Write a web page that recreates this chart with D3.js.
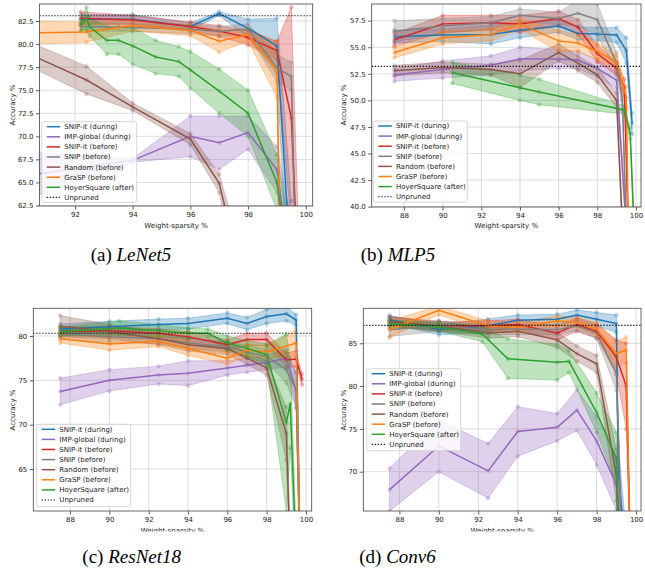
<!DOCTYPE html>
<html>
<head>
<meta charset="utf-8">
<script src="https://cdnjs.cloudflare.com/ajax/libs/d3/7.8.5/d3.min.js"></script>
<style>
  body { margin: 0; background: #fff; }
  text { font-family: "DejaVu Sans", sans-serif; }
</style>
</head>
<body>
<div id="chart"></div>
<script>
var seriesNames = ["SNIP-it (during)", "IMP-global (during)", "SNIP-it (before)", "SNIP (before)",
    "Random (before)", "GraSP (before)", "HoyerSquare (after)"];
var captions = [["(a) ", "LeNet5"], ["(b) ", "MLP5"], ["(c) ", "ResNet18"], ["(d) ", "Conv6"]];
var unprunedAcc = [83.07, 53.2, 80.3, 87.1];

// tick labels
var lenetYTicks = [62.5, 65, 67.5, 70, 72.5, 75, 77.5, 80, 82.5];
var mlpYTicks = [40, 42.5, 45, 47.5, 50, 52.5, 55, 57.5];
var resnetYTicks = [65, 70, 75, 80];
var conv6YTicks = [70, 75, 80, 85];
var lenetXTicks = [92, 94, 96, 98, 100];
var wideXTicks = [88, 90, 92, 94, 96, 98, 100];

// LeNet5: sparsity, mean accuracy, spread (per series, legend order)
var lenetX = [
    [92.2, 94, 96, 97, 98, 99, 99.5],
    [89.3, 94, 96, 97, 98, 99, 99.5],
    [92.2, 94, 96, 97, 98, 99, 99.5, 99.8],
    [92.2, 94, 96, 97, 98, 99, 99.5, 99.7],
    [90, 92.4, 94, 96, 97, 98],
    [90, 92.4, 94, 96, 97, 98, 99, 99.15],
    [92.2, 92.4, 92.5, 93.1, 93.5, 94, 94.8, 95.6, 96, 97, 98, 99, 99.5]
];
var lenetMean = [
    [82.7, 82.7, 81.9, 83.3, 81.7, 79.8, 55],
    [65.3, 67.4, 70.0, 69.3, 70.4, 66.4, 55],
    [82.8, 82.6, 81.9, 81.4, 80.7, 79.3, 72, 50],
    [81.9, 81.8, 81.6, 81.4, 81.6, 77.4, 76.5, 50],
    [79.5, 76.1, 73.2, 69.7, 64.9, 52],
    [81.2, 81.3, 82.0, 81.5, 80.3, 81.0, 77.2, 50],
    [82.1, 82.8, 81.9, 80.4, 80.4, 79.8, 78.6, 78.1, 77.2, 74.9, 72.5, 65.0, 55]
];
var lenetSpread = [
    [0.5, 0.5, 0.4, 0.2, 1.0, 3.0, 8],
    [3.2, 0.2, 2.2, 2.9, 1.8, 2.5, 6],
    [0.7, 0.5, 0.5, 0.6, 0.8, 1.0, 12, 5],
    [0.5, 0.4, 0.5, 0.5, 0.6, 1.5, 1.5, 5],
    [1.3, 1.5, 0.4, 0.6, 1.0, 3],
    [1.3, 1.1, 0.6, 0.6, 1.2, 0.7, 3, 5],
    [0.6, 1.2, 1.0, 1.5, 1.5, 2.0, 1.8, 1.6, 2.0, 2.4, 2.5, 3, 4]
];

// MLP5
var mlpX = [
    [87.5, 90, 92.5, 94, 96, 97, 98, 99, 99.5, 99.8],
    [87.5, 90, 92.5, 94, 96, 97, 98, 99, 99.5],
    [87.5, 90, 92.5, 94, 96, 97, 98, 99, 99.4, 99.6],
    [87.5, 90, 92.5, 94, 96, 97, 98, 99, 99.3, 99.5],
    [87.5, 90, 92.5, 94, 96, 97, 98, 99, 99.3],
    [87.5, 90, 92.5, 94, 96, 97, 98, 99, 99.5, 99.6],
    [90.5, 94, 95, 99.4, 99.7, 99.9]
];
var mlpMean = [
    [56.0, 56.15, 56.2, 56.6, 57.0, 56.3, 56.25, 56.15, 54.7, 47.8],
    [52.4, 52.9, 53.3, 53.9, 53.9, 53.8, 53.0, 51.9, 38],
    [55.7, 57.2, 57.3, 57.2, 57.7, 56.9, 54.4, 53.0, 51.2, 38],
    [56.5, 57.0, 57.3, 58.0, 57.7, 58.2, 57.6, 53.5, 50.0, 38],
    [52.8, 53.1, 52.9, 52.5, 54.5, 53.5, 52.4, 50.0, 38],
    [54.5, 55.9, 56.2, 57.2, 55.6, 55.4, 54.6, 53.6, 50.3, 38],
    [52.6, 51.2, 50.8, 49.1, 46.9, 38]
];
var mlpSpread = [
    [0.6, 0.6, 0.9, 0.7, 0.6, 0.6, 0.6, 0.7, 1.2, 1.0],
    [0.6, 0.8, 0.9, 1.1, 0.9, 0.8, 0.8, 0.8, 1],
    [0.6, 0.8, 0.7, 0.8, 0.7, 0.7, 0.8, 0.6, 0.8, 1],
    [1.0, 0.7, 0.6, 0.6, 0.6, 1.2, 1.5, 1.0, 1.0, 1],
    [0.5, 0.5, 0.5, 1.3, 0.8, 0.7, 0.7, 0.7, 1],
    [0.5, 0.6, 0.6, 0.5, 1.0, 0.8, 0.8, 0.6, 1.0, 1],
    [1.0, 1.2, 1.2, 0.4, 0.5, 1]
];

// ResNet18
var resnetX = [
    [87.5, 90, 92.5, 94, 96, 97, 98, 99, 99.5, 99.7],
    [87.5, 90, 92.5, 94, 96, 97, 98, 99, 99.5, 99.7],
    [87.5, 90, 92.5, 94, 96, 97, 98, 99, 99.5, 99.8],
    [87.5, 90, 92.5, 94, 96, 97, 98, 99, 99.5, 99.7],
    [87.5, 90, 92.5, 94, 96, 97, 98, 99, 99.2],
    [87.5, 90, 92.5, 94, 96, 97, 98, 99.5, 99.7],
    [87.5, 90.5, 92.5, 94, 95, 96, 97, 98, 99, 99.2, 99.5]
];
var resnetMean = [
    [80.75, 81.05, 81.3, 81.4, 82.0, 81.4, 82.2, 82.5, 81.8, 55],
    [73.75, 75.0, 75.6, 75.8, 76.4, 76.7, 77.0, 77.5, 73.9, 55],
    [80.5, 80.6, 80.3, 79.9, 79.0, 79.6, 79.6, 77.3, 77.4, 75.1],
    [80.2, 79.9, 79.7, 79.2, 78.8, 78.2, 77.7, 76.2, 73.9, 55],
    [81.1, 80.5, 79.7, 79.0, 78.6, 77.5, 76.4, 69.0, 55],
    [79.7, 79.1, 79.4, 78.6, 77.5, 78.4, 78.2, 79.2, 55],
    [80.5, 80.9, 80.6, 80.3, 80.3, 79.2, 78.6, 77.9, 70.2, 72.4, 55]
];
var resnetSpread = [
    [0.6, 0.6, 0.6, 0.6, 0.6, 0.7, 0.8, 0.8, 0.6, 3],
    [1.5, 1.2, 1.0, 1.4, 0.8, 0.8, 0.8, 1.0, 2, 3],
    [0.5, 0.5, 0.5, 0.6, 0.6, 0.7, 0.7, 0.8, 0.9, 0.6],
    [0.6, 0.6, 0.6, 0.6, 0.6, 0.7, 0.8, 1.5, 2, 3],
    [1.2, 0.8, 0.7, 0.7, 0.7, 0.7, 0.8, 3, 3],
    [0.5, 0.7, 0.6, 0.8, 0.7, 0.7, 0.7, 1.5, 3],
    [0.5, 0.8, 0.7, 0.6, 0.5, 0.8, 0.9, 1.2, 10, 5, 3]
];

// Conv6
var conv6X = [
    [87.5, 90, 92.5, 94, 96, 97, 98, 99, 99.1, 99.5],
    [87.5, 90, 92.5, 94, 96, 97, 98, 99, 99.3],
    [87.5, 90, 92.5, 94, 96, 97, 98, 99, 99.5, 99.7],
    [87.5, 90, 92.5, 94, 96, 97, 98, 99, 99.3],
    [87.5, 90, 92.5, 94, 96, 97, 98, 99, 99.2],
    [87.5, 90, 92.5, 94, 96, 97, 98, 99, 99.5, 99.7],
    [87.5, 90, 92.2, 93.5, 96, 96.6, 98, 99, 99.1]
];
var conv6Mean = [
    [87.75, 86.6, 87.05, 87.7, 87.8, 88.3, 87.8, 87.3, 70, 60],
    [67.9, 73.0, 70.1, 74.7, 75.2, 77.2, 73.6, 68.5, 60],
    [87.55, 87.0, 87.05, 87.2, 86.2, 87.2, 86.4, 83.4, 80, 62],
    [86.6, 87.0, 86.6, 86.65, 86.6, 87.05, 86.2, 81.5, 60],
    [87.55, 87.0, 86.2, 86.4, 85.4, 83.8, 82.6, 69.6, 60],
    [86.65, 88.85, 87.05, 86.9, 87.6, 87.45, 86.65, 83.8, 84.2, 60],
    [87.35, 86.9, 86.1, 83.2, 82.8, 82.9, 76.9, 71.6, 60]
];
var conv6Spread = [
    [0.5, 0.6, 0.8, 0.6, 0.6, 0.6, 0.8, 1.0, 3, 3],
    [2.5, 3, 3.2, 2.9, 1.6, 2.4, 2.8, 3, 3],
    [0.6, 0.5, 0.6, 0.6, 0.8, 0.8, 0.8, 2.0, 5, 2],
    [0.8, 0.6, 0.6, 0.6, 0.6, 0.6, 0.6, 2, 3],
    [0.5, 0.6, 0.6, 0.6, 0.9, 0.9, 1.0, 3, 3],
    [1.0, 0.5, 0.6, 0.6, 0.6, 0.6, 0.8, 1.5, 1.5, 3],
    [0.4, 0.5, 0.9, 2.3, 2.1, 1.3, 2.3, 3, 3]
];

var colors = ["#1f77b4", "#9467bd", "#d62728", "#7f7f7f", "#8c564b", "#ff7f0e", "#2ca02c"];

// panel layout (pixels) and axis extents
var panels = [
    { x: lenetX, m: lenetMean, s: lenetSpread, yt: lenetYTicks, xt: lenetXTicks, fmt: ".1f",
      l: 39.5, r: 312.7, t: 4, b: 206, xd: [90.77, 100.24], yd: [62.45, 84.34],
      leg: [41.7, 121.7, 95, 80.6], yl: [13, 105], xl: 228, cap: [131, 261] },
    { x: mlpX, m: mlpMean, s: mlpSpread, yt: mlpYTicks, xt: wideXTicks, fmt: ".1f",
      l: 371.7, r: 641, t: 4, b: 207, xd: [86.33, 100.26], yd: [39.97, 59.07],
      leg: [373.3, 121, 94, 81], yl: [343.5, 105], xl: 228, cap: [398, 261] },
    { x: resnetX, m: resnetMean, s: resnetSpread, yt: resnetYTicks, xt: wideXTicks, fmt: "d",
      l: 33.3, r: 311.7, t: 308.3, b: 511, xd: [86.13, 100.29], yd: [60.27, 83.12],
      leg: [36.7, 424.3, 94, 82.4], yl: [13, 410], xl: 533, cap: [131.7, 563] },
    { x: conv6X, m: conv6Mean, s: conv6Spread, yt: conv6YTicks, xt: wideXTicks, fmt: "d",
      l: 363.3, r: 641, t: 308.3, b: 511, xd: [86.17, 100.25], yd: [65.41, 89.09],
      leg: [366.7, 368.7, 94, 82], yl: [343.5, 410], xl: 533, cap: [397.5, 563] }
];

var svg = d3.select("#chart").append("svg")
    .attr("width", 645)
    .attr("height", 582);

panels.forEach(function (p, pi) {
    var xScale = d3.scaleLinear().domain(p.xd).range([p.l, p.r]);
    var yScale = d3.scaleLinear().domain(p.yd).range([p.b, p.t]);

    svg.append("clipPath").attr("id", "clip" + pi)
        .append("rect")
        .attr("x", p.l).attr("y", p.t)
        .attr("width", p.r - p.l).attr("height", p.b - p.t);

    // grid
    var grid = svg.append("g");
    p.xt.forEach(function (v) {
        grid.append("line")
            .attr("x1", xScale(v)).attr("x2", xScale(v))
            .attr("y1", p.t).attr("y2", p.b)
            .attr("stroke", "#dcdcdc").attr("stroke-width", 1);
    });
    p.yt.forEach(function (v) {
        grid.append("line")
            .attr("x1", p.l).attr("x2", p.r)
            .attr("y1", yScale(v)).attr("y2", yScale(v))
            .attr("stroke", "#dcdcdc").attr("stroke-width", 1);
    });

    var plot = svg.append("g").attr("clip-path", "url(#clip" + pi + ")");

    var area = d3.area()
        .x(function (d) { return xScale(d[0]); })
        .y0(function (d) { return yScale(d[1] - d[2]); })
        .y1(function (d) { return yScale(d[1] + d[2]); });
    var line = d3.line()
        .x(function (d) { return xScale(d[0]); })
        .y(function (d) { return yScale(d[1]); });

    // bands and seed points first, lines on top
    p.x.forEach(function (xs, si) {
        var rows = xs.map(function (v, i) { return [v, p.m[si][i], p.s[si][i]]; });
        plot.append("path").datum(rows)
            .attr("d", area)
            .attr("fill", colors[si]).attr("fill-opacity", 0.3)
            .attr("stroke", colors[si]).attr("stroke-opacity", 0.5).attr("stroke-width", 0.6);
        var pts = [];
        rows.forEach(function (r) {
            pts.push([r[0], r[1] - r[2]], [r[0], r[1]], [r[0], r[1] + r[2]]);
        });
        plot.append("g").selectAll("circle")
            .data(pts)
            .enter()
            .append("circle")
            .attr("cx", function (d) { return xScale(d[0]); })
            .attr("cy", function (d) { return yScale(d[1]); })
            .attr("r", 2.2)
            .attr("fill", colors[si]).attr("fill-opacity", 0.3);
    });
    p.x.forEach(function (xs, si) {
        var rows = xs.map(function (v, i) { return [v, p.m[si][i]]; });
        plot.append("path").datum(rows)
            .attr("d", line)
            .attr("fill", "none")
            .attr("stroke", colors[si]).attr("stroke-width", 1.5);
    });

    // unpruned reference
    plot.append("line")
        .attr("x1", p.l).attr("x2", p.r)
        .attr("y1", yScale(unprunedAcc[pi])).attr("y2", yScale(unprunedAcc[pi]))
        .attr("stroke", "#000").attr("stroke-width", 1.1)
        .attr("stroke-dasharray", "1.2,1.8");

    // axes
    var bottomAxis = d3.axisBottom(xScale).tickValues(p.xt).tickFormat(d3.format("d"))
        .tickSize(3.5).tickPadding(2.5);
    var leftAxis = d3.axisLeft(yScale).tickValues(p.yt).tickFormat(d3.format(p.fmt))
        .tickSize(3.5).tickPadding(2.5);
    var gx = svg.append("g").attr("transform", "translate(0," + p.b + ")").call(bottomAxis);
    var gy = svg.append("g").attr("transform", "translate(" + p.l + ",0)").call(leftAxis);
    [gx, gy].forEach(function (g) {
        g.select(".domain").remove();
        g.selectAll("line").attr("stroke", "#333").attr("stroke-width", 0.8);
        g.selectAll("text").attr("fill", "#222").style("font-size", "7px")
            .style("font-family", "'DejaVu Sans', sans-serif");
    });

    svg.append("rect")
        .attr("x", p.l).attr("y", p.t)
        .attr("width", p.r - p.l).attr("height", p.b - p.t)
        .attr("fill", "none").attr("stroke", "#444").attr("stroke-width", 0.8);

    // axis labels
    svg.append("text")
        .attr("transform", "translate(" + p.yl[0] + "," + p.yl[1] + ") rotate(-90)")
        .attr("text-anchor", "middle").attr("dy", "0.35em")
        .style("font-size", "7px").attr("fill", "#222")
        .text("Accuracy %");
    svg.append("text")
        .attr("x", (p.l + p.r) / 2).attr("y", p.xl)
        .attr("text-anchor", "middle")
        .style("font-size", "7px").attr("fill", "#222")
        .text("Weight-sparsity %");

    // legend
    var lg = svg.append("g").attr("transform", "translate(" + p.leg[0] + "," + p.leg[1] + ")");
    lg.append("rect")
        .attr("width", p.leg[2]).attr("height", p.leg[3])
        .attr("rx", 2)
        .attr("fill", "#fff").attr("fill-opacity", 0.8)
        .attr("stroke", "#ccc").attr("stroke-width", 0.8);
    seriesNames.concat(["Unpruned"]).forEach(function (name, i) {
        var yy = 5 + i * 10.1;
        lg.append("line")
            .attr("x1", 5).attr("x2", 18.5)
            .attr("y1", yy).attr("y2", yy)
            .attr("stroke", i < 7 ? colors[i] : "#000")
            .attr("stroke-width", i < 7 ? 1.5 : 1.1)
            .attr("stroke-dasharray", i < 7 ? null : "1.2,1.8");
        lg.append("text")
            .attr("x", 22.6).attr("y", yy).attr("dy", "0.35em")
            .style("font-size", "7px").attr("fill", "#222")
            .text(name);
    });
});

// the bottom x label is cut by the page crop
svg.append("rect").attr("x", 0).attr("y", 531.5).attr("width", 645).attr("height", 51).attr("fill", "#fff");

captions.forEach(function (c, i) {
    var t = svg.append("text")
        .attr("x", panels[i].cap[0]).attr("y", panels[i].cap[1])
        .attr("text-anchor", "middle")
        .style("font-family", "'Liberation Serif', 'Times New Roman', serif")
        .style("font-size", "19px").attr("fill", "#000");
    t.append("tspan").text(c[0]);
    t.append("tspan").style("font-style", "italic").text(c[1]);
});
</script>
</body>
</html>
